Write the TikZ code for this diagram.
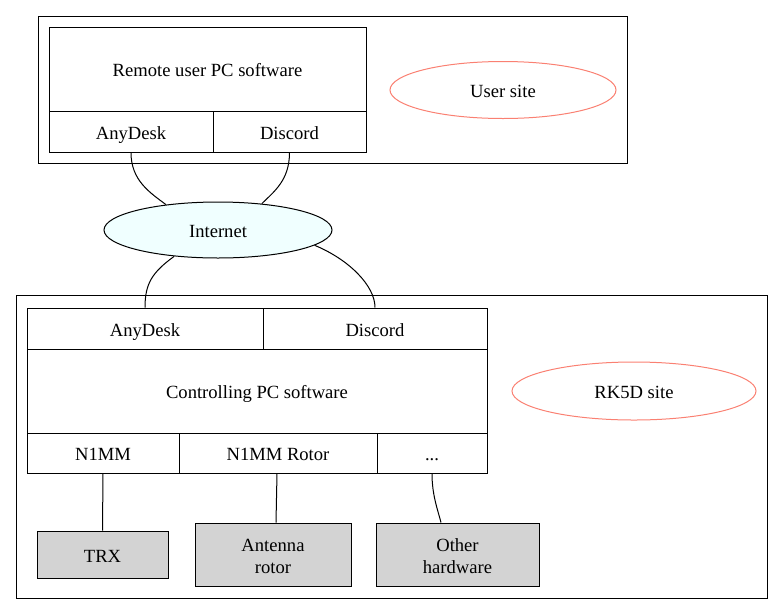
\documentclass[tikz,border=0pt]{standalone}
\usepackage{fontspec}
\setmainfont{Liberation Serif}
\usetikzlibrary{shapes.geometric}
\definecolor{salmonc}{HTML}{FA8072}
\definecolor{azurec}{HTML}{F0FFFF}
\definecolor{lgray}{HTML}{D3D3D3}
\tikzset{
  txt/.style={font=\fontsize{18.6pt}{22pt}\selectfont},
  cell/.style={draw, line width=1pt, inner sep=0pt, txt, text height=15pt, text depth=0pt},
  cluster/.style={draw, line width=1pt},
  sitelabel/.style={ellipse, draw=salmonc, line width=1pt, inner sep=0pt, txt, text height=15pt, text depth=0pt},
  hw/.style={draw, line width=1pt, inner sep=0pt, fill=lgray},
  hwtext/.style={inner sep=0pt, txt, align=center},
  link/.style={line width=1pt}
}
\begin{document}
\begin{tikzpicture}[x=1pt,y=-1pt]
\useasboundingbox (0,0) rectangle (784,614);
% clusters
\draw[cluster] (38,16) rectangle (627,163);
\draw[cluster] (16,295) rectangle (767,598);
% user site record
\node[cell, minimum width=317pt, minimum height=84pt] (rMain) at (207.5,69) {Remote user PC software};
\node[cell, minimum width=164pt, minimum height=41pt] (rAny) at (131,131.5) {AnyDesk};
\node[cell, minimum width=153pt, minimum height=41pt] (rDis) at (289.5,131.5) {Discord};
\node[sitelabel, minimum width=226pt, minimum height=57pt] (usite) at (503,90) {User site};
% internet
\node[ellipse, draw, fill=azurec, line width=1pt, inner sep=0pt, minimum width=228pt, minimum height=56pt, txt, text height=15pt, text depth=0pt] (inet) at (218,230) {Internet};
% controlling record
\node[cell, minimum width=236pt, minimum height=41pt] (cAny) at (145,328.5) {AnyDesk};
\node[cell, minimum width=224pt, minimum height=41pt] (cDis) at (375,328.5) {Discord};
\node[cell, minimum width=460pt, minimum height=84pt] (cMain) at (257,391) {Controlling PC software};
\node[cell, minimum width=152pt, minimum height=40pt] (cN1) at (103,453) {N1MM};
\node[cell, minimum width=198pt, minimum height=40pt] (cRot) at (278,453) {N1MM Rotor};
\node[cell, minimum width=110pt, minimum height=40pt] (cDots) at (432,453) {...};
\node[sitelabel, minimum width=244pt, minimum height=58pt] (rsite) at (634,391) {RK5D site};
% hardware
\node[hw, minimum width=131pt, minimum height=47pt] (trx) at (102.5,554.5) {};
\node[hwtext] (trxt) at ([yshift=-2pt]trx.center) {TRX};
\node[hw, minimum width=156pt, minimum height=63pt] (rotor) at (273,554.5) {};
\node[hwtext] (rotort) at ([yshift=-2pt]rotor.center) {Antenna\\rotor};
\node[hw, minimum width=163pt, minimum height=63pt] (other) at (457.5,554.5) {};
\node[hwtext] (othert) at ([yshift=-2pt]other.center) {Other\\hardware};
% links
\draw[link] (rAny.south) .. controls +(0,-28pt) and +(-16pt,12pt) .. (inet.154);
\draw[link] (rDis.south) .. controls +(0,-28pt) and +(12pt,12pt) .. (inet.31);
\draw[link] (inet.211) .. controls +(-22pt,-16pt) and +(0,24pt) .. (cAny.north);
\draw[link] (inet.-9) .. controls +(34pt,-14pt) and +(0,22pt) .. (cDis.north);
\draw[link] (cN1.south) -- (trx.north);
\draw[link] (cRot.south -| 277,0) -- (rotor.north -| 276,0);
\draw[link] (cDots.south) .. controls +(0,-22pt) and +(-3pt,12pt) .. (other.north -| 441,0);
\end{tikzpicture}
\end{document}
